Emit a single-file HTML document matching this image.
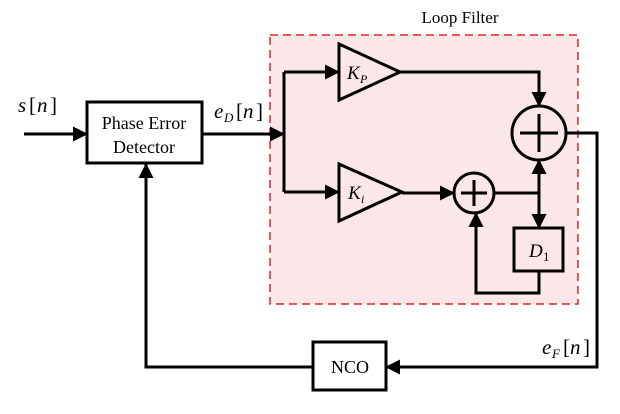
<!DOCTYPE html>
<html><head><meta charset="utf-8"><style>
html,body{margin:0;padding:0;background:#fff;}
svg text{font-family:"Liberation Serif",serif;fill:#000;}
</style></head><body>
<svg width="620" height="409" viewBox="0 0 620 409" xmlns="http://www.w3.org/2000/svg">
<defs>
<marker id="b" markerWidth="15" markerHeight="15" refX="14" refY="7.5" orient="auto" markerUnits="userSpaceOnUse">
<path d="M0,0 L15,7.5 L0,15 Z" fill="#000"/></marker>
</defs>
<rect x="270" y="35" width="308" height="269" fill="#fbe6e8" stroke="#e8212a" stroke-width="1.5" stroke-dasharray="8,5"/>
<text x="460" y="23" font-size="17" text-anchor="middle">Loop Filter</text>
<g stroke="#000" stroke-width="3" fill="none">
<rect x="87" y="102" width="115" height="61" fill="#fff"/>
<line x1="24" y1="134" x2="87" y2="134" marker-end="url(#b)"/>
<line x1="202" y1="134" x2="284" y2="134" marker-end="url(#b)"/>
<polyline points="284,72 284,192"/>
<line x1="284" y1="72" x2="339" y2="72" marker-end="url(#b)"/>
<line x1="284" y1="192" x2="339" y2="192" marker-end="url(#b)"/>
<polygon points="339,44 400,72 339,100"/>
<polygon points="339,164 402,192 339,221"/>
<polyline points="400,72 539,72 539,106" marker-end="url(#b)"/>
<circle cx="539" cy="133" r="27"/>
<line x1="539" y1="114" x2="539" y2="152"/><line x1="520" y1="133" x2="558" y2="133"/>
<line x1="402" y1="193" x2="454" y2="193" marker-end="url(#b)"/>
<circle cx="474" cy="193" r="20"/>
<line x1="474" y1="180" x2="474" y2="206"/><line x1="461" y1="193" x2="487" y2="193"/>
<line x1="494" y1="193" x2="539" y2="193"/>
<line x1="539" y1="193" x2="539" y2="160" marker-end="url(#b)"/>
<line x1="539" y1="193" x2="539" y2="228" marker-end="url(#b)"/>
<rect x="514" y="228" width="49" height="43"/>
<polyline points="539,271 539,293 476,293 476,213" marker-end="url(#b)"/>
<polyline points="566,133 597,133 597,367 386,367" marker-end="url(#b)"/>
<rect x="313" y="342" width="73" height="48" fill="#fff"/>
<polyline points="313,367 146,367 146,164" marker-end="url(#b)"/>
</g>
<text x="144" y="129" font-size="18" text-anchor="middle">Phase Error</text>
<text x="144" y="153" font-size="18" text-anchor="middle">Detector</text>
<text x="350" y="373" font-size="18" text-anchor="middle">NCO</text>
<text x="18" y="112" font-size="21" font-style="italic">s</text><text x="29" y="112" font-size="21">[</text><text x="37" y="112" font-size="21" font-style="italic">n</text><text x="50" y="112" font-size="21">]</text>
<text x="214" y="118" font-size="21" font-style="italic">e</text><text x="224" y="122" font-size="13" font-style="italic">D</text><text x="236" y="118" font-size="21">[</text><text x="243" y="118" font-size="21" font-style="italic">n</text><text x="256" y="118" font-size="21">]</text>
<text x="542" y="354" font-size="21" font-style="italic">e</text><text x="552" y="358" font-size="13" font-style="italic">F</text><text x="563" y="354" font-size="21">[</text><text x="570" y="354" font-size="21" font-style="italic">n</text><text x="583" y="354" font-size="21">]</text>
<text x="347" y="79" font-size="19" font-style="italic">K</text><text x="360" y="83" font-size="12" font-style="italic">P</text>
<text x="348" y="199" font-size="19" font-style="italic">K</text><text x="361" y="203" font-size="12" font-style="italic">i</text>
<text x="529" y="257" font-size="19" font-style="italic">D</text><text x="543" y="261" font-size="13">1</text>
</svg>
</body></html>
